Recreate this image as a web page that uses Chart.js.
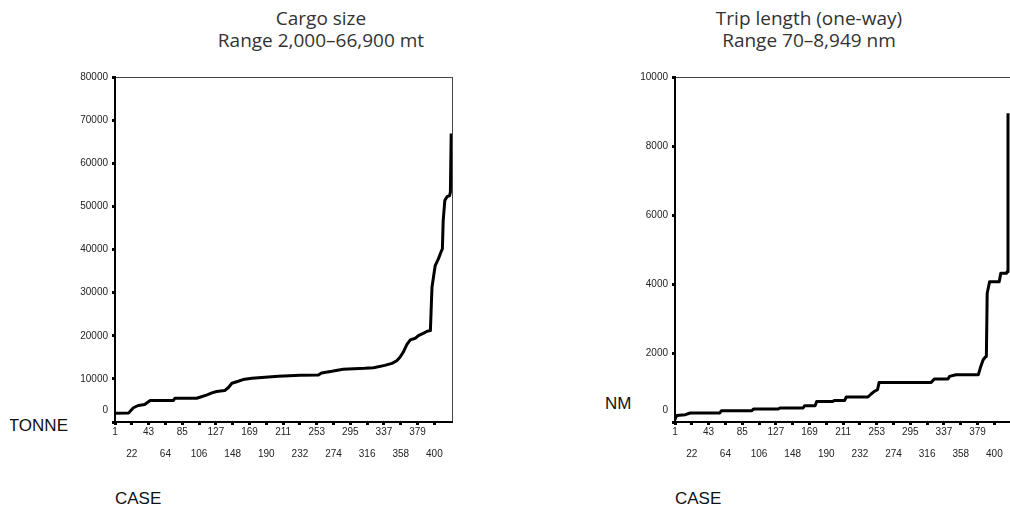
<!DOCTYPE html>
<html>
<head>
<meta charset="utf-8">
<script src="https://cdn.jsdelivr.net/npm/chart.js@4.4.0/dist/chart.umd.min.js"></script>
<style>
  html, body { margin: 0; padding: 0; background: #fff; }
  body { width: 1010px; height: 510px; position: relative; overflow: hidden; }
  canvas { position: absolute; top: 0; }
  .title { position: absolute; width: 400px; font-family: "Open Sans", sans-serif; font-size: 19px; line-height: 22px; color: #333; text-align: center; white-space: nowrap; }
  .lbl { position: absolute; font-family: "Liberation Sans", Arial, sans-serif; font-size: 17px; line-height: 17px; color: #111; white-space: nowrap; }
</style>
</head>
<body>
<div class="title" style="left:121px; top:7px;">Cargo size<br>Range 2,000–66,900 mt</div>
<div class="title" style="left:609px; top:7px;">Trip length (one-way)<br>Range 70–8,949 nm</div>
<div style="position:absolute; left:10px; top:417px; width:58px; height:20px; overflow:hidden;"><span class="lbl" style="right:0; top:0;">TONNE</span></div>
<div class="lbl" style="left:605px; top:395px;">NM</div>
<div class="lbl" style="left:115px; top:490px;">CASE</div>
<div class="lbl" style="left:675px; top:490px;">CASE</div>
<canvas id="cargoChart" width="470" height="480" style="left:0"></canvas>
<canvas id="tripChart" width="470" height="480" style="left:560px"></canvas>
<script>
// x axis tick labels (case numbers)
const caseTicks = [1, 22, 43, 64, 85, 106, 127, 148, 169, 190, 211, 232, 253, 274, 295, 316, 337, 358, 379, 400];

// cargo size, sorted (breakpoints)
const cargoCase  = [1, 18, 24, 30, 38, 45, 74, 76, 103, 107, 116, 122, 128, 138, 143, 147, 155, 161, 172, 205,
                    232, 255, 259, 272, 286, 313, 324, 338, 347, 353, 357, 361, 366, 370, 376, 380, 386, 391, 395, 397,
                    401, 405, 409, 410, 411, 413, 416, 419, 420, 421];
const cargoTonne = [2000, 2100, 3300, 3830, 4060, 4990, 4990, 5520, 5520, 5750, 6300, 6760, 7060, 7290, 8060, 8980, 9440, 9830, 10130, 10590,
                    10820, 10900, 11380, 11750, 12210, 12440, 12600, 13130, 13590, 14200, 15000, 16160, 18100, 19030, 19410, 20030, 20570, 21040, 21190, 31250,
                    36270, 37820, 39750, 40140, 46710, 51350, 52280, 52510, 53290, 66900];

// trip length, sorted
const tripCase = [1, 3, 14, 20, 57, 59, 97, 99, 130, 132, 161, 163, 176, 178, 198, 200, 213, 215, 242, 246,
                  250, 254, 256, 321, 325, 342, 344, 352, 380, 383, 386, 389, 390, 391, 394, 406, 408, 415, 416, 417];
const tripNm   = [70, 190, 212, 261, 261, 328, 328, 377, 377, 406, 406, 473, 473, 597, 597, 626, 626, 725, 725, 812,
                  887, 936, 1148, 1148, 1247, 1247, 1322, 1371, 1371, 1612, 1806, 1893, 1899, 3730, 4067, 4067, 4308, 4308, 4357, 8949];

const frame = {
    id: 'frame',
    beforeDraw(chart) {
        const { ctx, chartArea: a } = chart;
        ctx.save();
        ctx.strokeStyle = '#444';
        ctx.lineWidth = 1;
        ctx.strokeRect(a.left + 0.5, a.top + 0.5, a.right - a.left, a.bottom - a.top);
        ctx.restore();
    }
};

function makeChart(id, xs, ys, yMax, yStep) {
    const ctx = document.getElementById(id).getContext('2d');
    return new Chart(ctx, {
        type: 'line',
        data: {
            datasets: [{
                data: xs.map((c, i) => ({ x: c, y: ys[i] })),
                borderColor: '#000',
                borderWidth: 3,
                borderJoinStyle: 'round',
                pointRadius: 0,
                tension: 0,
                fill: false
            }]
        },
        options: {
            responsive: false,
            animation: false,
            layout: { padding: { top: 77, right: 18, left: 0, bottom: 0 } },
            plugins: { legend: { display: false }, tooltip: { enabled: false } },
            scales: {
                x: {
                    type: 'linear',
                    min: 1,
                    max: 422,
                    afterBuildTicks: (scale) => { scale.ticks = caseTicks.map(v => ({ value: v })); },
                    afterFit: (scale) => { scale.height = 58; },
                    grid: { drawOnChartArea: false, drawTicks: true, tickLength: 3, tickWidth: 3, tickColor: '#000' },
                    border: { display: true, color: '#000', width: 2 },
                    ticks: {
                        autoSkip: false,
                        maxRotation: 0,
                        padding: 2,
                        color: '#222',
                        font: { family: 'Liberation Sans', size: 10, lineHeight: 1.07 },
                        callback: (value, index) => index % 2 === 0 ? [String(value), '', ''] : ['', '', String(value)]
                    }
                },
                y: {
                    min: 0,
                    max: yMax,
                    afterFit: (scale) => { scale.width = 115; },
                    grid: { drawOnChartArea: false, drawTicks: true, tickLength: 3, tickWidth: 3, tickColor: '#000' },
                    border: { display: true, color: '#000', width: 2 },
                    ticks: {
                        stepSize: yStep,
                        padding: 4,
                        color: '#222',
                        font: { family: 'Liberation Sans', size: 10, lineHeight: 1.2 },
                        callback: (value) => value === 0 ? ['0', '', ''] : String(value)
                    }
                }
            }
        },
        plugins: [frame]
    });
}

makeChart('cargoChart', cargoCase, cargoTonne, 80000, 10000);
makeChart('tripChart', tripCase, tripNm, 10000, 2000);
</script>
</body>
</html>
